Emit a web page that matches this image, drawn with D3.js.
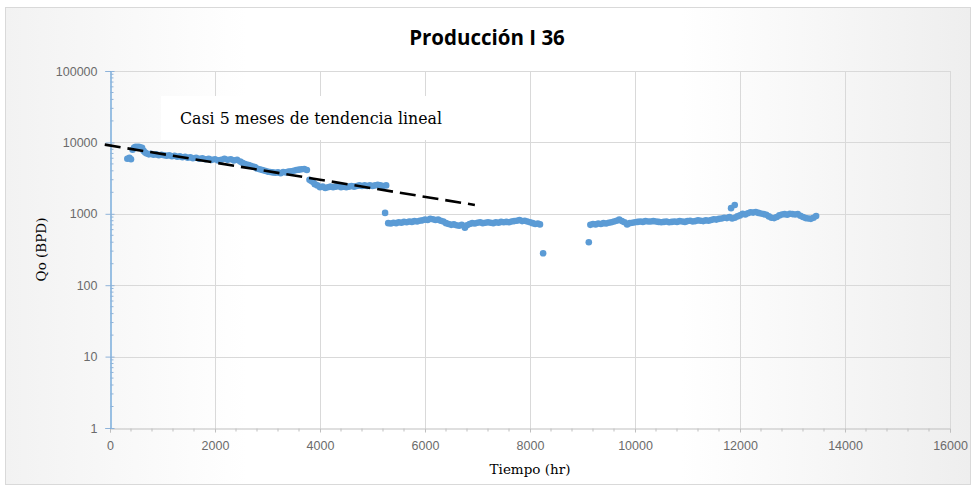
<!DOCTYPE html>
<html lang="es">
<head>
<meta charset="utf-8">
<title>Producción I 36</title>
<script src="https://cdn.jsdelivr.net/npm/d3@7"></script>
<style>
  html, body { margin: 0; padding: 0; background: #ffffff; }
  svg { display: block; }
</style>
</head>
<body>
<div id="chart"></div>
<script>
// Producción del pozo I 36: caudal de petróleo (BPD) contra tiempo (hr)
const tiempo = [
  330, 370, 400, 430, 460, 490, 520, 550, 580, 610, 640, 670, 700, 740, 780, 830, 880, 930, 980, 1030,
  1080, 1130, 1180, 1230, 1280, 1330, 1380, 1430, 1480, 1530, 1580, 1640, 1700, 1760, 1820, 1880, 1940, 2000, 2060, 2120,
  2180, 2240, 2300, 2360, 2420, 2480, 2520, 2560, 2600, 2640, 2680, 2720, 2760, 2800, 2850, 2900, 2950, 3000, 3050, 3100,
  3150, 3200, 3250, 3300, 3350, 3400, 3450, 3500, 3550, 3600, 3650, 3700, 3750, 3800, 3830, 3860, 3900, 3950, 4000, 4050,
  4100, 4150, 4200, 4250, 4300, 4350, 4400, 4450, 4500, 4550, 4600, 4650, 4700, 4750, 4800, 4850, 4900, 4950, 5000, 5050,
  5100, 5150, 5200, 5260,
  5240,
  5300, 5350, 5400, 5450, 5500, 5550, 5600, 5650, 5700, 5750, 5800, 5850, 5900, 5950, 6000, 6050, 6100, 6150, 6200, 6250,
  6300, 6350, 6400, 6450, 6500, 6550, 6600, 6650, 6700, 6760, 6800, 6850, 6900, 6950, 7000, 7050, 7100, 7150, 7200, 7250,
  7300, 7350, 7400, 7450, 7500, 7550, 7600, 7650, 7700, 7750, 7800, 7850, 7900, 7950, 8000, 8050, 8100, 8150, 8190,
  8250,
  9120,
  9150, 9200, 9250, 9300, 9350, 9400, 9450, 9500, 9550, 9600, 9650, 9700, 9750, 9800, 9850, 9900, 9950, 10000, 10050, 10100,
  10150, 10200, 10250, 10300, 10350, 10400, 10450, 10500, 10550, 10600, 10650, 10700, 10750, 10800, 10850, 10900, 10950, 11000, 11050, 11100,
  11150, 11200, 11250, 11300, 11350, 11400, 11450, 11500, 11550, 11600, 11650, 11700, 11750, 11800, 11850, 11900, 11950, 12000, 12050, 12100,
  12150, 12200, 12250, 12300, 12350, 12400, 12450, 12500, 12550, 12600, 12650, 12700, 12750, 12800, 12850, 12900, 12950, 13000, 13050, 13100,
  13150, 13200, 13250, 13300, 13350, 13400, 13450,
  11830, 11900
];
const caudal = [
  5900, 6100, 5800, 7900, 8500, 8700, 8600, 8700, 8500, 8400, 7600, 7200, 7000, 6800, 6900, 6700, 6800, 6600, 6700, 6600,
  6500, 6600, 6400, 6500, 6300, 6400, 6200, 6300, 6100, 6200, 6000, 6100, 5900, 6000, 5800, 5900, 5700, 5800, 5600, 5700,
  5900, 5700, 5800, 5600, 5700, 5400, 5200, 5000, 4900, 4800, 4700, 4600, 4500, 4300, 4200, 4100, 4000, 3900, 3850, 3800,
  3750, 3800, 3700, 3850, 3800, 3900, 3950, 4000, 4100, 4150, 4200, 4250, 4100, 3000, 2900, 2800, 2600, 2500, 2350, 2400,
  2300, 2350, 2400, 2350, 2400, 2450, 2350, 2400, 2350, 2400, 2450, 2400, 2450, 2500, 2450, 2500, 2450, 2500, 2450, 2500,
  2550, 2500, 2450, 2500,
  1030,
  740, 730, 750, 740, 760, 750, 770, 760, 780, 770, 790, 780, 800, 810, 830, 820, 850, 840, 820, 830,
  800, 780, 740, 720, 700, 710, 690, 680, 700, 640, 690, 720, 740, 730, 750, 760, 740, 750, 760, 750,
  740, 760, 750, 770, 760, 770, 760, 780, 790, 800, 820, 790, 800, 780, 760, 740, 720, 730, 710,
  280,
  400,
  700, 720, 710, 730, 720, 740, 730, 750, 760, 780, 800, 830, 790, 760, 710, 740, 750, 760, 770, 780,
  770, 790, 780, 780, 790, 780, 770, 760, 770, 780, 760, 770, 780, 770, 790, 780, 770, 790, 800, 780,
  790, 810, 800, 790, 810, 800, 820, 840, 830, 850, 860, 880, 870, 900, 860, 880, 920, 950, 1000, 980,
  1020, 1050, 1040, 1060, 1030, 1010, 990, 970, 920, 880, 870, 900, 950, 980, 990, 970, 1000, 990, 980, 990,
  940, 900, 870, 860, 850, 880, 930,
  1200, 1330
];

// Tendencia lineal (semilog) de los primeros meses
const tendenciaT = [-100, 6950];
const tendenciaQ = [9300, 1330];

const xTicks = [0, 2000, 4000, 6000, 8000, 10000, 12000, 14000, 16000];
const yTicks = [1, 10, 100, 1000, 10000, 100000];

const titulo = "Producción I 36";
const tituloX = "Tiempo (hr)";
const tituloY = "Qo (BPD)";
const nota = "Casi 5 meses de tendencia lineal";

const W = 977, H = 494;
const plotL = 110, plotR = 950, plotT = 71, plotB = 428;
const serif = "'DejaVu Serif', 'Liberation Serif', serif";

const svg = d3.select("#chart").append("svg")
  .attr("width", W).attr("height", H);

// fondo del gráfico con degradado suave
const defs = svg.append("defs");
const grad = defs.append("linearGradient").attr("id", "fondo")
  .attr("x1", "0%").attr("x2", "100%").attr("y1", "0%").attr("y2", "0%");
grad.append("stop").attr("offset", "0%").attr("stop-color", "#f2f2f2");
grad.append("stop").attr("offset", "25%").attr("stop-color", "#ffffff");
grad.append("stop").attr("offset", "70%").attr("stop-color", "#ffffff");
grad.append("stop").attr("offset", "100%").attr("stop-color", "#eeeeee");

svg.append("rect").attr("x", 5.5).attr("y", 7.5).attr("width", 965).attr("height", 477)
  .attr("fill", "url(#fondo)").attr("stroke", "#d9d9d9").attr("stroke-width", 1);

const x = d3.scaleLinear().domain([0, 16000]).range([plotL, plotR]);
const y = d3.scaleLog().domain([1, 100000]).range([plotB, plotT]);

// cuadrícula principal
const grid = svg.append("g").attr("stroke", "#d9d9d9").attr("stroke-width", 1);
grid.selectAll("line.v").data(xTicks.filter(d => d > 0)).join("line")
  .attr("class", "v")
  .attr("x1", d => Math.round(x(d)) + 0.5).attr("x2", d => Math.round(x(d)) + 0.5)
  .attr("y1", plotT).attr("y2", plotB);
grid.selectAll("line.h").data(yTicks.filter(d => d > 1)).join("line")
  .attr("class", "h")
  .attr("x1", plotL).attr("x2", plotR)
  .attr("y1", d => Math.round(y(d)) + 0.5).attr("y2", d => Math.round(y(d)) + 0.5);

// cuadro de la nota
svg.append("rect").attr("x", 161).attr("y", 96).attr("width", 345).attr("height", 44)
  .attr("fill", "#ffffff");

// eje X
const xMinor = d3.range(0, 16001, 400).filter(d => d % 2000 !== 0);
const xAxis = svg.append("g").attr("transform", `translate(0,${plotB + 0.5})`)
  .call(d3.axisBottom(x).tickValues(xTicks).tickSize(4).tickPadding(9).tickFormat(d3.format("d")));
xAxis.select(".domain").attr("stroke", "#bfbfbf");
xAxis.selectAll(".tick line").attr("stroke", "#bfbfbf");
xAxis.selectAll("text").attr("fill", "#6b6b6b").attr("font-size", 12.5)
  .attr("font-family", "'Liberation Sans', Arial, sans-serif");
svg.append("g").attr("transform", `translate(0,${plotB + 0.5})`)
  .selectAll("line").data(xMinor).join("line")
  .attr("x1", d => x(d)).attr("x2", d => x(d)).attr("y1", 0).attr("y2", 3)
  .attr("stroke", "#bfbfbf");

// eje Y (logarítmico)
const yMinor = [];
yTicks.slice(0, -1).forEach(dec => { for (let k = 2; k <= 9; k++) yMinor.push(dec * k); });
const yAxis = svg.append("g").attr("transform", `translate(${plotL + 0.5},0)`)
  .call(d3.axisLeft(y).tickValues(yTicks).tickSize(5).tickPadding(8).tickFormat(d3.format("d")));
yAxis.select(".domain").attr("stroke", "#5b9bd5").attr("stroke-width", 1.2);
yAxis.selectAll(".tick line").attr("stroke", "#8fb3d9").attr("x2", -5);
yAxis.selectAll(".tick").append("line").attr("x1", 0).attr("x2", 4).attr("stroke", "#8fb3d9");
yAxis.selectAll("text").attr("fill", "#6b6b6b").attr("font-size", 12.5)
  .attr("font-family", "'Liberation Sans', Arial, sans-serif");
svg.append("g").attr("transform", `translate(${plotL + 0.5},0)`)
  .selectAll("line").data(yMinor).join("line")
  .attr("x1", 0).attr("x2", 3).attr("y1", d => y(d)).attr("y2", d => y(d))
  .attr("stroke", "#8fb3d9");

// puntos de producción
const puntos = tiempo.map((t, i) => ({ t, q: caudal[i] }));
svg.append("g").selectAll("circle").data(puntos).join("circle")
  .attr("cx", d => x(d.t)).attr("cy", d => y(d.q)).attr("r", 3.3)
  .attr("fill", "#5b9bd5");

// recta de tendencia
const linea = d3.line().x(d => x(d[0])).y(d => y(d[1]));
svg.append("path")
  .datum(tendenciaT.map((t, i) => [t, tendenciaQ[i]]))
  .attr("d", linea)
  .attr("fill", "none").attr("stroke", "#000000").attr("stroke-width", 2.6)
  .attr("stroke-dasharray", "16,7");

// títulos y nota
svg.append("text").attr("x", 487).attr("y", 45).attr("text-anchor", "middle")
  .attr("font-family", "'Open Sans', sans-serif").attr("font-weight", 700)
  .attr("font-size", 20.5).attr("fill", "#000000").text(titulo);

svg.append("text").attr("x", (plotL + plotR) / 2).attr("y", 474).attr("text-anchor", "middle")
  .attr("font-family", serif)
  .attr("font-size", 13.5).attr("fill", "#000000").text(tituloX);

svg.append("text").attr("transform", `translate(46,${(plotT + plotB) / 2}) rotate(-90)`)
  .attr("text-anchor", "middle")
  .attr("font-family", serif)
  .attr("font-size", 13.5).attr("fill", "#000000").text(tituloY);

svg.append("text").attr("x", 180).attr("y", 124)
  .attr("font-family", serif)
  .attr("font-size", 15.8).attr("fill", "#000000").text(nota);
</script>
</body>
</html>
